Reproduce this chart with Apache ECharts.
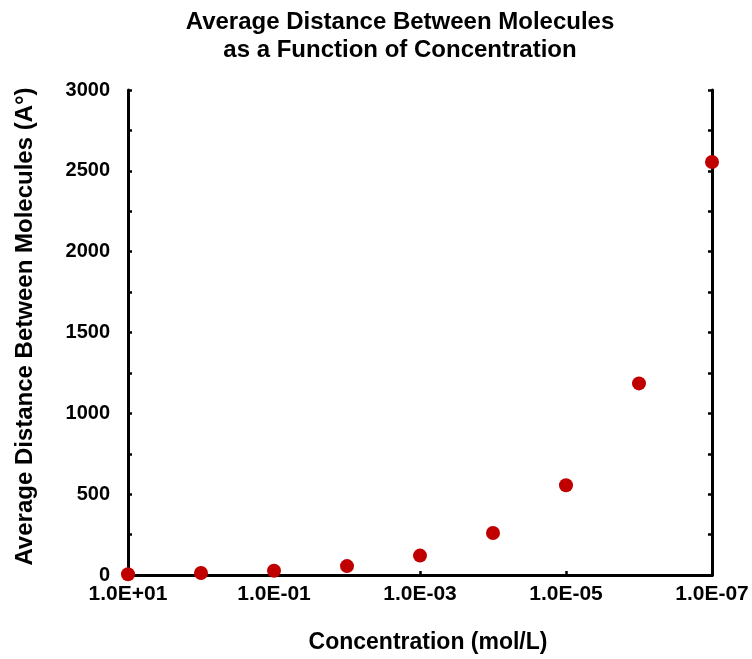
<!DOCTYPE html>
<html><head><meta charset="utf-8">
<script src="https://cdn.jsdelivr.net/npm/echarts@6/dist/echarts.min.js"></script>
<style>html,body{margin:0;padding:0;background:#fff}#c{width:752px;height:659px}</style>
</head><body><div id="c"></div>
<script>
const titleLines = ['Average Distance Between Molecules', 'as a Function of Concentration'];
const xAxisName = 'Concentration (mol/L)';
const yAxisName = 'Average Distance Between Molecules (A°)';
const concentrations = [10, 1, 0.1, 0.01, 0.001, 0.0001, 0.00001, 0.000001, 0.0000001];
const distances = [5, 12, 26, 55, 120, 260, 555, 1185, 2555];
const xTickLabels = ['1.0E+01', '1.0E-01', '1.0E-03', '1.0E-05', '1.0E-07'];
const yTickLabels = [0, 500, 1000, 1500, 2000, 2500, 3000];

const font = '"Liberation Sans", Arial, Helvetica, sans-serif';
const chart = echarts.init(document.getElementById('c'), null, {renderer: 'canvas'});
function fmtX(v) {
  const e = Math.round(Math.log10(v));
  const s = '1.0E' + (e >= 0 ? '+' : '-') + String(Math.abs(e)).padStart(2, '0');
  return xTickLabels.includes(s) ? s : '';
}
function fmtY(v) {
  return yTickLabels.includes(v) ? String(v) : '';
}
chart.setOption({
  animation: false,
  graphic: [{
    type: 'text', x: 400, y: 8, silent: true,
    style: {
      text: titleLines.join('\n'), fill: '#000',
      fontFamily: font, fontWeight: 'bold', fontSize: 24, lineHeight: 28,
      align: 'center', verticalAlign: 'top', textAlign: 'center', textVerticalAlign: 'top'
    }
  }],
  grid: {left: 128, right: 40, top: 90, bottom: 84, containLabel: false},
  xAxis: [{
    type: 'log', logBase: 10, inverse: true, min: 1e-7, max: 10, interval: 2,
    name: xAxisName, nameLocation: 'middle', nameGap: 56,
    nameTextStyle: {fontFamily: font, fontWeight: 'bold', fontSize: 23, color: '#000', padding: [0, 0, 0, 16]},
    axisLine: {show: true, lineStyle: {color: '#000', width: 3}},
    axisTick: {show: true, inside: true, length: 4, lineStyle: {color: '#000', width: 2.5}},
    axisLabel: {formatter: fmtX, fontFamily: font, fontWeight: 'bold', fontSize: 21, color: '#000', margin: 9},
    splitLine: {show: false}, minorTick: {show: false}
  }, {
    type: 'log', logBase: 10, inverse: true, min: 1e-7, max: 10, position: 'top',
    axisLine: {show: true, lineStyle: {color: '#000', width: 3}},
    axisTick: {show: false}, axisLabel: {show: false}, splitLine: {show: false}
  }],
  yAxis: [{
    type: 'value', min: 0, max: 3000, interval: 500,
    name: yAxisName, nameLocation: 'middle', nameGap: 91, nameRotate: 90,
    nameTextStyle: {fontFamily: font, fontWeight: 'bold', fontSize: 24, color: '#000', padding: [0, 0, 0, 12]},
    axisLine: {show: true, lineStyle: {color: '#000', width: 3}},
    axisTick: {show: true, inside: true, length: 4, lineStyle: {color: '#000', width: 2.5}},
    minorTick: {show: true, splitNumber: 2, length: 4, lineStyle: {color: '#000', width: 2.5}},
    axisLabel: {formatter: fmtY, fontFamily: font, fontWeight: 'bold', fontSize: 20, color: '#000', margin: 18},
    splitLine: {show: false}
  }, {
    type: 'value', min: 0, max: 3000, interval: 500, position: 'right',
    axisLine: {show: true, lineStyle: {color: '#000', width: 3}},
    axisTick: {show: true, inside: true, length: 4, lineStyle: {color: '#000', width: 2.5}},
    minorTick: {show: true, splitNumber: 2, length: 4, lineStyle: {color: '#000', width: 2.5}},
    axisLabel: {show: false}, splitLine: {show: false}
  }],
  series: [{
    type: 'scatter', xAxisIndex: 0, yAxisIndex: 0,
    symbol: 'circle', symbolSize: 14,
    itemStyle: {color: '#c00000', opacity: 1},
    data: concentrations.map((c, i) => [c, distances[i]])
  }]
});
</script></body></html>
